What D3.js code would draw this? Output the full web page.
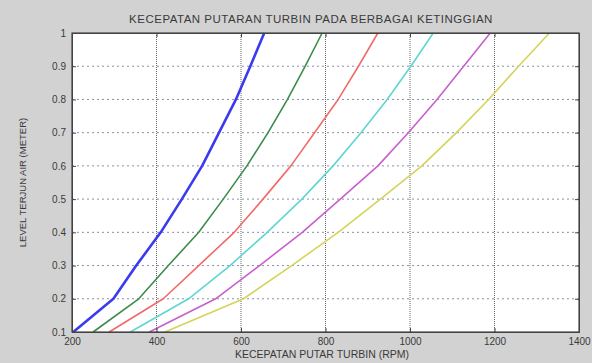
<!DOCTYPE html>
<html>
<head>
<meta charset="utf-8">
<script src="https://cdn.jsdelivr.net/npm/d3@7"></script>
<style>
  body { margin: 0; background: #d2d2d2; }
  text { font-family: "Liberation Sans", Arial, sans-serif; fill: #3a3a3a; }
</style>
</head>
<body>
<div id="canvas"></div>
<script>
"use strict"

// level air terjun (meter) - sumbu Y
let levels = [0.1, 0.2, 0.3, 0.4, 0.5, 0.6, 0.7, 0.8, 0.9, 1.0];

// kecepatan putar turbin (rpm) untuk tiap kurva
let rpmBlue    = [203, 298, 352, 410, 460, 508, 548, 588, 622, 655];
let rpmGreen   = [250, 358, 428, 500, 558, 614, 664, 710, 752, 792];
let rpmRed     = [288, 416, 500, 584, 652, 718, 774, 830, 878, 924];
let rpmCyan    = [338, 476, 574, 662, 744, 818, 884, 946, 1002, 1055];
let rpmMagenta = [383, 540, 644, 745, 835, 924, 996, 1064, 1127, 1190];
let rpmYellow  = [420, 606, 720, 830, 930, 1028, 1110, 1186, 1257, 1330];

let xTicks = [200, 400, 600, 800, 1000, 1200, 1400];
let yTicks = [0.1, 0.2, 0.3, 0.4, 0.5, 0.6, 0.7, 0.8, 0.9, 1];

let series = [
    { values: rpmBlue,    color: "#3a3af0", width: 2.6 },
    { values: rpmGreen,   color: "#3c8c4a", width: 1.6 },
    { values: rpmRed,     color: "#f26a6a", width: 1.6 },
    { values: rpmCyan,    color: "#5fd6d2", width: 1.6 },
    { values: rpmMagenta, color: "#c860cc", width: 1.6 },
    { values: rpmYellow,  color: "#d4d45a", width: 1.6 }
];

let W = 592, H = 363;
let pLeft = 72, pRight = 579, pTop = 33, pBottom = 332;

let drawing = d3.select("#canvas")
    .append("svg")
    .attr("width", W)
    .attr("height", H);

drawing.append("rect")
    .attr("width", W)
    .attr("height", H)
    .attr("fill", "#d2d2d2");

let x = d3.scaleLinear().domain([200, 1400]).range([pLeft, pRight]);
let y = d3.scaleLinear().domain([0.1, 1]).range([pBottom, pTop]);

// plot area
drawing.append("rect")
    .attr("x", pLeft)
    .attr("y", pTop)
    .attr("width", pRight - pLeft)
    .attr("height", pBottom - pTop)
    .attr("fill", "white");

// grid lines
drawing.append("g")
    .selectAll("line")
    .data(xTicks.slice(1, -1))
    .join("line")
    .attr("x1", d => x(d))
    .attr("x2", d => x(d))
    .attr("y1", pTop)
    .attr("y2", pBottom)
    .attr("stroke", "#666")
    .attr("stroke-width", 1)
    .attr("stroke-dasharray", "1,1");

drawing.append("g")
    .selectAll("line")
    .data(yTicks.slice(1, -1))
    .join("line")
    .attr("x1", pLeft)
    .attr("x2", pRight)
    .attr("y1", d => y(d))
    .attr("y2", d => y(d))
    .attr("stroke", "#8a90a8")
    .attr("stroke-width", 1)
    .attr("stroke-dasharray", "2,3");

// curves
let line = d3.line()
    .x(d => x(d[0]))
    .y(d => y(d[1]));

drawing.append("g")
    .selectAll("path")
    .data(series)
    .join("path")
    .attr("d", s => line(s.values.map((v, i) => [v, levels[i]])))
    .attr("fill", "none")
    .attr("stroke", s => s.color)
    .attr("stroke-width", s => s.width)
    .attr("stroke-linejoin", "round");

// axes (ticks pointing inward like matlab)
let xAxis = drawing.append("g")
    .attr("transform", `translate(0,${pBottom})`)
    .call(d3.axisBottom(x).tickValues(xTicks).tickSize(-4).tickPadding(6).tickFormat(d3.format("d")));
let yAxis = drawing.append("g")
    .attr("transform", `translate(${pLeft},0)`)
    .call(d3.axisLeft(y).tickValues(yTicks).tickSize(-4).tickPadding(6).tickFormat(d => d === 1 ? "1" : d3.format(".1f")(d)));
drawing.append("g")
    .attr("transform", `translate(0,${pTop})`)
    .call(d3.axisTop(x).tickValues(xTicks).tickSize(-4).tickFormat(""));
drawing.append("g")
    .attr("transform", `translate(${pRight},0)`)
    .call(d3.axisRight(y).tickValues(yTicks).tickSize(-4).tickFormat(""));

drawing.selectAll(".domain").attr("stroke", "#444");
drawing.selectAll(".tick line").attr("stroke", "#444");
xAxis.selectAll("text").attr("font-size", 10).attr("fill", "#444");
yAxis.selectAll("text").attr("font-size", 10).attr("fill", "#444");

// frame
drawing.append("rect")
    .attr("x", pLeft)
    .attr("y", pTop)
    .attr("width", pRight - pLeft)
    .attr("height", pBottom - pTop)
    .attr("fill", "none")
    .attr("stroke", "#444")
    .attr("stroke-width", 1.2);

// title and labels
drawing.append("text")
    .attr("x", 311)
    .attr("y", 23)
    .attr("text-anchor", "middle")
    .attr("font-size", 11.5)
    .attr("letter-spacing", 0.5)
    .text("KECEPATAN PUTARAN TURBIN PADA BERBAGAI KETINGGIAN");

drawing.append("text")
    .attr("x", 322)
    .attr("y", 358)
    .attr("text-anchor", "middle")
    .attr("font-size", 10.5)
    .text("KECEPATAN PUTAR TURBIN (RPM)");

drawing.append("text")
    .attr("transform", `translate(26,${(pTop + pBottom) / 2}) rotate(-90)`)
    .attr("text-anchor", "middle")
    .attr("font-size", 9.5)
    .text("LEVEL TERJUN AIR (METER)");
</script>
</body>
</html>
